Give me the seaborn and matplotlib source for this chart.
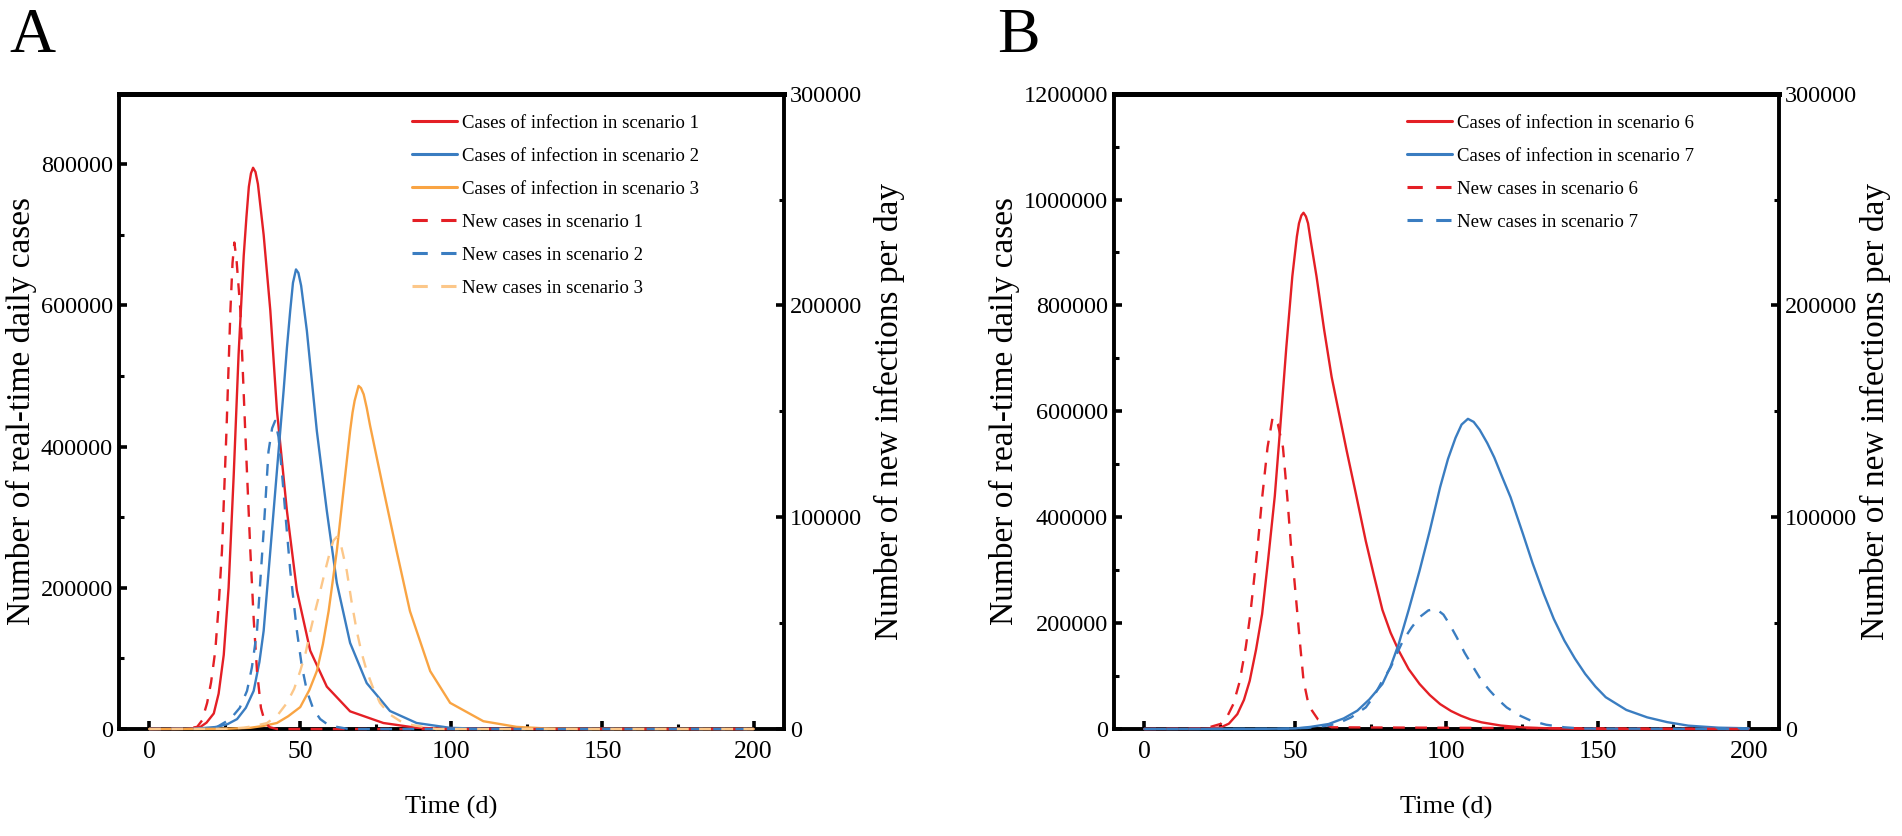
import numpy as np
import pandas as pd
import matplotlib
matplotlib.use("Agg")
import matplotlib.pyplot as plt
from matplotlib.ticker import MultipleLocator
import seaborn as sns

# ---------------- data ----------------
# Panel A: real-time cases (left axis)
tA1 = [0, 12, 15, 17, 19, 21.4, 23, 24.7, 26.3, 28, 29.6, 31.3, 32.2, 33, 33.7, 34.4, 35.2, 36, 37.9, 40.1, 42.3, 45.6, 48.9, 53.3, 58.8, 66.5, 77.5, 88.5, 100, 200]
cA1 = [0, 200, 1200, 3000, 9000, 22000, 50000, 105000, 200000, 360000, 530000, 670000, 725000, 768000, 787000, 795000, 789000, 772000, 700000, 593000, 451000, 309000, 196000, 111000, 60000, 25000, 8500, 1700, 300, 0]
tA2 = [0, 15, 22.5, 26, 29.1, 32, 34.6, 36.5, 37.9, 40.1, 42.3, 44.5, 45.6, 46.7, 47.6, 48.6, 49.4, 50.3, 52.2, 55.5, 58.8, 62.1, 66.5, 72, 79.7, 88.5, 99.5, 110, 200]
cA2 = [0, 300, 3000, 7000, 14000, 30000, 54000, 95000, 139000, 252000, 366000, 479000, 540000, 593000, 632000, 651000, 646000, 628000, 564000, 422000, 309000, 207000, 122000, 65000, 25500, 8500, 1700, 300, 0]
tA3 = [0, 25, 33.5, 38, 42.3, 46, 50, 53, 55.5, 57.5, 59.4, 62.1, 64.3, 66.5, 67.3, 68, 69.3, 70.1, 71, 72, 73.1, 77.5, 81.9, 86.3, 93, 99.6, 110.6, 121.6, 132.6, 145, 200]
cA3 = [0, 200, 1700, 4500, 8500, 18000, 31000, 55000, 82000, 120000, 167000, 252000, 337000, 422000, 448000, 465000, 486000, 483000, 474000, 455000, 430000, 340000, 252000, 167000, 82000, 37000, 11000, 3000, 500, 0, 0]
# Panel A: new cases per day (right axis)
tN1 = [0, 12, 15.9, 17.5, 19.2, 20.5, 21.9, 23, 24.1, 25.6, 26.9, 27.6, 28.2, 28.9, 30.2, 31.8, 33.5, 34.6, 35.7, 37, 38.4, 40, 42.3, 200]
nA1 = [0, 100, 1000, 4000, 12300, 22000, 37000, 58000, 84000, 140800, 197600, 220000, 229700, 222000, 197600, 140800, 84000, 52000, 27400, 10000, 2800, 800, 0, 0]
tN2 = [0, 18, 22.5, 26.9, 30, 32.4, 34, 35.7, 37.9, 39.5, 40.7, 41.7, 42.8, 43.9, 45.3, 46.7, 48.9, 50.5, 52.2, 54.3, 56.6, 59, 62.1, 66, 200]
nA2 = [0, 200, 1000, 4700, 10000, 18000, 29000, 46300, 93600, 131000, 142000, 145500, 138000, 122000, 98000, 74700, 46300, 30000, 18000, 9500, 4700, 2200, 1000, 0, 0]
tN3 = [0, 25, 31.3, 35, 39, 42.5, 45.6, 48, 50, 51.8, 53.3, 55, 56.6, 58.3, 59.9, 61, 62.1, 63.3, 65.4, 67, 68.7, 70.3, 72, 74.2, 76.4, 79.5, 83, 86.5, 90.7, 95, 200]
nA3 = [0, 100, 600, 1500, 2800, 6500, 12300, 19000, 27400, 36000, 46000, 56000, 65000, 75000, 84000, 89000, 90700, 88000, 74700, 60000, 46300, 36000, 27400, 19000, 12300, 7000, 3800, 2000, 1000, 0, 0]

# Panel B: real-time cases (left axis)
tB6 = [0, 18, 22, 25.3, 28, 30.8, 33, 34.9, 37, 39, 41, 43.2, 45, 47, 49, 50.5, 51.2, 52, 52.7, 53.5, 54.2, 55, 57, 59.5, 62, 64.5, 67, 70, 73.3, 76, 78.8, 81.5, 84.2, 87.5, 91.1, 94.5, 97.9, 101.5, 104.8, 108, 111.6, 118, 125.3, 135, 150, 165, 200]
cB6 = [0, 200, 1000, 3000, 10000, 28000, 55000, 91000, 150000, 217000, 320000, 440000, 570000, 720000, 855000, 930000, 955000, 970000, 975000, 968000, 955000, 925000, 855000, 755000, 665000, 595000, 525000, 445000, 355000, 290000, 225000, 182000, 148000, 113000, 85000, 64000, 47000, 34000, 25000, 18000, 12600, 6500, 3000, 1000, 200, 0, 0]
tB7 = [0, 40, 50, 55, 61, 66, 70.5, 74.5, 78.8, 81.5, 84.2, 87.5, 91.1, 94.5, 97.9, 100.5, 103, 105, 107.1, 109, 111, 113.5, 115.8, 118.5, 121.2, 125.3, 128.5, 132.2, 135.5, 139, 142.5, 145.9, 149.3, 152.7, 159.5, 166.4, 173, 180, 190, 200]
cB7 = [0, 300, 1000, 4000, 9400, 20000, 34600, 56000, 85000, 118000, 160600, 225000, 299000, 375000, 456700, 510000, 550000, 575000, 585800, 580000, 565000, 540000, 513000, 475000, 437800, 368500, 313000, 255000, 208000, 167000, 133000, 104000, 80000, 60000, 36000, 22000, 13000, 6300, 2500, 1300]
# Panel B: new cases per day (right axis)
tM6 = [0, 20, 25.3, 27.5, 29.5, 31.5, 33.6, 35, 36.3, 37.7, 39, 40.8, 42.5, 44.2, 45.9, 47.3, 48.6, 49.7, 50.7, 51.7, 52.7, 54, 55.5, 57.5, 59.6, 62, 200]
nB6 = [0, 200, 2400, 6000, 11800, 22000, 38600, 53000, 70000, 89000, 109000, 133000, 147300, 144000, 133000, 110000, 85800, 70000, 54000, 38000, 23000, 14000, 8700, 4500, 2400, 800, 0]
tM7 = [0, 45, 54, 60, 63.7, 68.5, 73.3, 76, 78.8, 81.5, 85.6, 88.5, 91.1, 94, 96.6, 99, 101, 103.4, 106, 108.9, 111.5, 114.4, 117, 119.9, 124, 128, 133, 139, 145, 200]
nB7 = [0, 100, 500, 1500, 2400, 5500, 10200, 15500, 22800, 29000, 41700, 48000, 52800, 56000, 56700, 54000, 49500, 43300, 36000, 29100, 23000, 18000, 14000, 10200, 6500, 3900, 2000, 800, 200, 0]

labels_A_solid = ["Cases of infection in scenario 1", "Cases of infection in scenario 2", "Cases of infection in scenario 3"]
labels_A_dash = ["New cases in scenario 1", "New cases in scenario 2", "New cases in scenario 3"]
labels_B_solid = ["Cases of infection in scenario 6", "Cases of infection in scenario 7"]
labels_B_dash = ["New cases in scenario 6", "New cases in scenario 7"]

RED = "#E41F25"
BLUE = "#3A7DC1"
ORANGE = "#F9A443"
LORANGE = "#FCC789"

# ---------------- styling ----------------
sns.set_theme(style="white")
plt.rcParams["font.family"] = ["Liberation Serif", "DejaVu Serif"]
plt.rcParams["text.color"] = "black"
plt.rcParams["axes.labelcolor"] = "black"
plt.rcParams["xtick.color"] = "black"
plt.rcParams["ytick.color"] = "black"

fig = plt.figure(figsize=(19.02, 8.36), dpi=100)

DASH = (0, (5.0, 4.4))
LW = 1.7
YLAB = 24
TICK = 17.5


def style_axes(ax, ax2, ymax_left, ymax_right):
    ax.set_xlim(-10, 210)
    ax.set_ylim(0, ymax_left)
    ax2.set_ylim(0, ymax_right)
    ax.xaxis.set_major_locator(MultipleLocator(50))
    ax.xaxis.set_minor_locator(MultipleLocator(25))
    ax.yaxis.set_major_locator(MultipleLocator(200000))
    ax.yaxis.set_minor_locator(MultipleLocator(100000))
    ax2.yaxis.set_major_locator(MultipleLocator(100000))
    ax2.yaxis.set_minor_locator(MultipleLocator(50000))
    for s in ax.spines.values():
        s.set_color("black")
        s.set_linewidth(2.8)
    ax.spines["top"].set_linewidth(3.6)
    ax.spines["right"].set_visible(False)
    for name, s in ax2.spines.items():
        s.set_visible(name == "right")
        s.set_color("black")
        s.set_linewidth(2.8)
    ax.grid(False)
    ax2.grid(False)
    ax.tick_params(axis="both", which="major", direction="in", length=6, width=2.6,
                   labelsize=TICK, pad=4.5, left=True, bottom=True, right=False, top=False)
    ax.tick_params(axis="both", which="minor", direction="in", length=3.5, width=2.2,
                   left=True, bottom=True, right=False, top=False)
    ax.tick_params(axis="x", which="major", pad=9, labelsize=18.5)
    ax2.tick_params(axis="y", which="major", direction="in", length=6, width=2.6,
                    labelsize=TICK, pad=4.5)
    ax2.tick_params(axis="y", which="minor", direction="in", length=3.5, width=2.2)
    ax.set_xlabel("Time (d)", fontsize=19)
    ax.xaxis.set_label_coords(0.5, -0.105)
    ax.set_ylabel("Number of real-time daily cases", fontsize=YLAB)
    ax2.set_ylabel("Number of new infections per day", fontsize=YLAB)
    for a in (ax, ax2):
        a.ticklabel_format(axis="y", style="plain", useOffset=False)


def draw(ax, t, y, color, ls, label):
    sns.lineplot(x=t, y=y, ax=ax, color=color, linestyle=ls, linewidth=LW,
                 sort=False, estimator=None, label=label, legend=False,
                 clip_on=False, zorder=3)


def add_legend(ax, ax2, labels, x):
    handles = ax.get_lines() + ax2.get_lines()
    leg = ax2.legend(handles=handles, labels=labels, loc="upper left",
                     bbox_to_anchor=(x, 0.967), frameon=False, fontsize=13.5,
                     handlelength=2.4, handletextpad=0.27, labelspacing=0.85,
                     borderpad=0, borderaxespad=0)
    for l in leg.get_lines():
        l.set_linewidth(2.2)


# ---------------- Panel A ----------------
axA = fig.add_axes([0.0625, 0.128, 0.3496, 0.760])
axA2 = axA.twinx()
for t, y, c, lab in zip([tA1, tA2, tA3], [cA1, cA2, cA3], [RED, BLUE, ORANGE], labels_A_solid):
    draw(axA, t, y, c, "-", lab)
for t, y, c, lab in zip([tN1, tN2, tN3], [nA1, nA2, nA3], [RED, BLUE, LORANGE], labels_A_dash):
    draw(axA2, t, y, c, DASH, lab)
style_axes(axA, axA2, 900000, 300000)
axA.yaxis.set_label_coords(-0.123, 0.5)
axA2.yaxis.set_label_coords(1.136, 0.5)
add_legend(axA, axA2, labels_A_solid + labels_A_dash, 0.441)

fig.text(0.005, 0.99, "A", fontsize=46, ha="left", va="top")

# ---------------- Panel B ----------------
axB = fig.add_axes([0.5857, 0.128, 0.3496, 0.760])
axB2 = axB.twinx()
for t, y, c, lab in zip([tB6, tB7], [cB6, cB7], [RED, BLUE], labels_B_solid):
    draw(axB, t, y, c, "-", lab)
for t, y, c, lab in zip([tM6, tM7], [nB6, nB7], [RED, BLUE], labels_B_dash):
    draw(axB2, t, y, c, DASH, lab)
style_axes(axB, axB2, 1200000, 300000)
axB.yaxis.set_label_coords(-0.142, 0.5)
axB2.yaxis.set_label_coords(1.1215, 0.5)
add_legend(axB, axB2, labels_B_solid + labels_B_dash, 0.440)

fig.text(0.524, 0.99, "B", fontsize=46, ha="left", va="top")

fig.savefig("out.png", dpi=100)
